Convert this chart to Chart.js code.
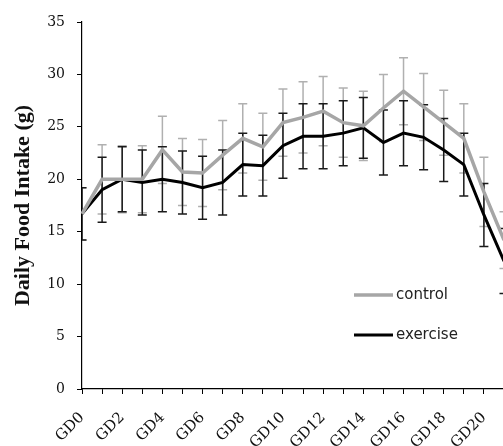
<!DOCTYPE html>
<html>
<head>
<meta charset="utf-8">
<script src="https://cdn.jsdelivr.net/npm/chart.js@4"></script>
<style>
  html, body { margin: 0; padding: 0; background: #fff; overflow: hidden; }
  #wrap { width: 521px; height: 446px; }
</style>
</head>
<body>
<div id="wrap"><canvas id="intake" width="521" height="446"></canvas></div>
<script>
// gestation days (GD21 sits at the cropped right edge)
const days = ["GD0","GD1","GD2","GD3","GD4","GD5","GD6","GD7","GD8","GD9","GD10",
  "GD11","GD12","GD13","GD14","GD15","GD16","GD17","GD18","GD19","GD20","GD21"];

const control = [16.7, 20.0, 20.0, 20.0, 22.8, 20.7, 20.6, 22.3, 23.9, 23.1, 25.4,
  25.9, 26.5, 25.4, 25.1, 26.8, 28.4, 26.9, 25.4, 23.9, 18.8, 14.2];
const controlSD = [2.5, 3.3, 3.2, 3.2, 3.2, 3.2, 3.2, 3.3, 3.3, 3.2, 3.2,
  3.4, 3.3, 3.3, 3.3, 3.2, 3.2, 3.2, 3.1, 3.3, 3.3, 2.7];

const exercise = [16.7, 19.0, 20.0, 19.7, 20.0, 19.7, 19.2, 19.7, 21.4, 21.3, 23.2,
  24.1, 24.1, 24.4, 24.9, 23.5, 24.4, 24.0, 22.8, 21.4, 16.6, 12.2];
const exerciseSD = [2.5, 3.1, 3.1, 3.1, 3.1, 3.0, 3.0, 3.1, 3.0, 2.9, 3.1,
  3.1, 3.1, 3.1, 2.9, 3.1, 3.1, 3.1, 3.0, 3.0, 3.0, 3.1];

const yTicks = [0, 5, 10, 15, 20, 25, 30, 35];

// error bars: drawn under the lines, from the y scale
const errorBars = {
  id: "errorBars",
  beforeDatasetsDraw(chart) {
    const { ctx, chartArea, scales: { x, y } } = chart;
    ctx.save();
    ctx.beginPath();
    ctx.rect(chartArea.left, 0, chart.width - chartArea.left, chart.height);
    ctx.clip();
    chart.data.datasets.forEach(ds => {
      ctx.strokeStyle = ds.barColor;
      ctx.lineWidth = 1.5;
      ds.data.forEach((v, i) => {
        const px = x.getPixelForValue(i);
        const top = y.getPixelForValue(v + ds.sd[i]);
        const bot = y.getPixelForValue(v - ds.sd[i]);
        ctx.beginPath();
        ctx.moveTo(px, top); ctx.lineTo(px, bot);
        ctx.moveTo(px - 4.5, top); ctx.lineTo(px + 4.5, top);
        ctx.moveTo(px - 4.5, bot); ctx.lineTo(px + 4.5, bot);
        ctx.stroke();
      });
    });
    ctx.restore();
  }
};

// legend inside the plot, bottom right
const innerLegend = {
  id: "innerLegend",
  afterDraw(chart) {
    const { ctx } = chart;
    ctx.save();
    ctx.font = "15px 'DejaVu Sans', sans-serif";
    ctx.textBaseline = "middle";
    chart.data.datasets.forEach((ds, i) => {
      const ly = 295 + i * 40;
      ctx.strokeStyle = ds.borderColor;
      ctx.lineWidth = ds.borderWidth;
      ctx.beginPath();
      ctx.moveTo(354, ly); ctx.lineTo(393, ly);
      ctx.stroke();
      ctx.fillStyle = "#222";
      ctx.fillText(ds.label, 396, ly);
    });
    ctx.restore();
  }
};

const serif = "'DejaVu Serif', 'Liberation Serif', serif";

new Chart(document.getElementById("intake"), {
  type: "line",
  data: {
    labels: days,
    datasets: [
      {
        label: "control",
        data: control,
        sd: controlSD,
        borderColor: "#a6a6a6",
        barColor: "#b0b0b0",
        borderWidth: 3.5,
        pointRadius: 0,
        tension: 0
      },
      {
        label: "exercise",
        data: exercise,
        sd: exerciseSD,
        borderColor: "#000000",
        barColor: "#1a1a1a",
        borderWidth: 3,
        pointRadius: 0,
        tension: 0
      }
    ]
  },
  options: {
    responsive: false,
    animation: false,
    layout: { padding: { top: 22, right: 17, left: 0, bottom: 0 } },
    plugins: {
      legend: { display: false },
      tooltip: { enabled: false }
    },
    scales: {
      x: {
        offset: false,
        border: { color: "#000", width: 1.2 },
        grid: { display: true, drawOnChartArea: false, color: "#000", tickLength: 5 },
        ticks: {
          autoSkip: false,
          maxRotation: 45,
          minRotation: 45,
          padding: 15,
          color: "#111",
          font: { family: serif, size: 15 },
          callback: (v, i) => (i % 2 === 0 ? days[i] : "")
        },
        afterFit: s => { s.height = 57; s.paddingLeft = 0; s.paddingRight = 0; }
      },
      y: {
        min: 0,
        max: 35,
        border: { color: "#000", width: 1.2 },
        grid: { display: true, drawOnChartArea: false, color: "#000", tickLength: 5 },
        afterBuildTicks: s => { s.ticks = yTicks.map(v => ({ value: v })); },
        ticks: {
          padding: 12,
          color: "#111",
          font: { family: serif, size: 14 }
        },
        title: {
          display: true,
          text: "Daily Food Intake (g)",
          color: "#111",
          padding: { top: 10, bottom: 0 },
          font: { family: "'Liberation Serif', 'Times New Roman', serif", size: 22, weight: "bold" }
        },
        afterFit: s => { s.width = 82; s.paddingTop = 0; s.paddingBottom = 0; }
      }
    }
  },
  plugins: [errorBars, innerLegend]
});
</script>
</body>
</html>
